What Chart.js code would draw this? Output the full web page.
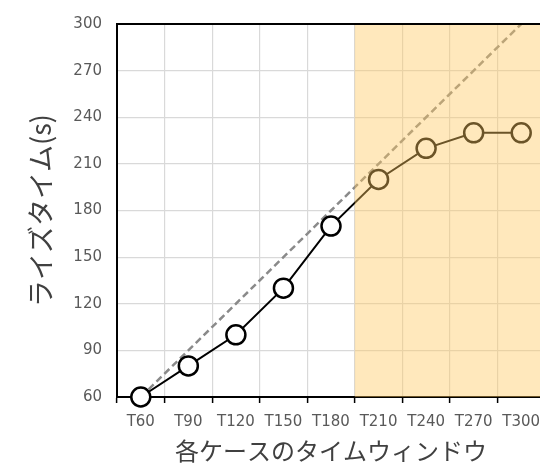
<!DOCTYPE html>
<html>
<head>
<meta charset="utf-8">
<script src="https://cdn.jsdelivr.net/npm/chart.js@4"></script>
<style>
  html, body { margin: 0; padding: 0; background: #fff; overflow: hidden; }
  #wrap { width: 560px; height: 467px; }
</style>
</head>
<body>
<div id="wrap"><canvas id="riseChart" width="560" height="467"></canvas></div>
<script>
const windows = ["T60", "T90", "T120", "T150", "T180", "T210", "T240", "T270", "T300"];
const riseTime = [60, 80, 100, 130, 170, 200, 220, 230, 230];
const idealLine = [60, 90, 120, 150, 180, 210, 240, 270, 300];
const yTicks = [60, 90, 120, 150, 180, 210, 240, 270, 300];
const shadeStart = "T210";

const jpFont = "'Noto Sans CJK JP', 'Noto Sans', sans-serif";
const numFont = "'DejaVu Sans', Verdana, sans-serif";

// light orange band laid over the right part of the plot, plus the top border
const shadePlugin = {
  id: "shade",
  afterDatasetsDraw(chart) {
    const { ctx, chartArea, scales } = chart;
    const x = scales.x;
    const idx = windows.indexOf(shadeStart);
    const left = (x.getPixelForValue(idx - 1) + x.getPixelForValue(idx)) / 2;
    ctx.save();
    ctx.fillStyle = "rgba(255, 200, 95, 0.42)";
    ctx.fillRect(left, chartArea.top, chartArea.right - left + 20, chartArea.bottom - chartArea.top);
    ctx.strokeStyle = "#000";
    ctx.lineWidth = 2;
    ctx.beginPath();
    ctx.moveTo(chartArea.left, chartArea.top);
    ctx.lineTo(chartArea.right + 20, chartArea.top);
    ctx.stroke();
    ctx.restore();
  },
};

new Chart(document.getElementById("riseChart"), {
  type: "line",
  data: {
    labels: windows,
    datasets: [
      {
        label: "rise",
        data: riseTime,
        borderColor: "#000",
        borderWidth: 2,
        pointRadius: 9.5,
        pointBorderWidth: 2.5,
        pointBackgroundColor: "#fff",
        pointBorderColor: "#000",
        tension: 0,
        clip: false,
        order: 1,
      },
      {
        label: "ideal",
        data: idealLine,
        borderColor: "#8a8a8a",
        borderWidth: 2.5,
        borderDash: [7, 4],
        pointRadius: 0,
        tension: 0,
        order: 2,
      },
    ],
  },
  options: {
    responsive: false,
    animation: false,
    layout: { padding: { top: 17, right: 15, left: 0, bottom: 0 } },
    plugins: { legend: { display: false }, tooltip: { enabled: false } },
    scales: {
      x: {
        offset: true,
        grid: { color: "#d9d9d9", lineWidth: 1.2, offset: true, tickLength: 6, tickColor: "#000", tickWidth: 1.5 },
        border: { color: "#000", width: 2 },
        ticks: { color: "#595959", font: { family: numFont, size: 15 }, padding: 10, maxRotation: 0, autoSkip: false },
        title: { display: true, text: "各ケースのタイムウィンドウ", color: "#404040", font: { family: jpFont, size: 24 }, padding: { top: 0, bottom: 2 } },
        afterFit(scale) { scale.height = 70; },
      },
      y: {
        min: 60,
        max: 300,
        afterBuildTicks(scale) { scale.ticks = yTicks.map((v) => ({ value: v })); },
        grid: { color: "#d9d9d9", lineWidth: 1.2, drawTicks: false },
        border: { color: "#000", width: 2 },
        ticks: { color: "#595959", font: { family: numFont, size: 15 }, padding: 15 },
        title: { display: true, text: "ライズタイム(s)", color: "#404040", font: { family: jpFont, size: 27 }, padding: { top: 25, bottom: 0 } },
        afterFit(scale) { scale.width = 117; },
      },
    },
  },
  plugins: [shadePlugin],
});
</script>
</body>
</html>
